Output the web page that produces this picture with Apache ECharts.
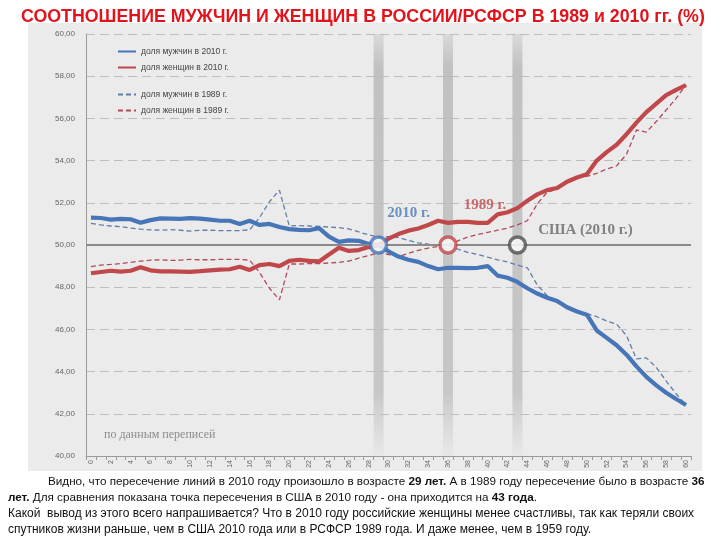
<!DOCTYPE html>
<html><head><meta charset="utf-8">
<script src="https://cdn.jsdelivr.net/npm/echarts@6/dist/echarts.min.js"></script>
<style>html,body{margin:0;padding:0;background:#fff}#c{width:720px;height:540px}</style>
</head><body><div id="c"></div>
<script>
const ages = ['0','1','2','3','4','5','6','7','8','9','10','11','12','13','14','15','16','17','18','19','20',
'21','22','23','24','25','26','27','28','29','30','31','32','33','34','35','36','37','38','39','40',
'41','42','43','44','45','46','47','48','49','50','51','52','53','54','55','56','57','58','59','60'];

const men2010 = [51.30,51.28,51.20,51.24,51.22,51.05,51.18,51.26,51.25,51.24,51.27,51.25,51.20,51.15,51.15,51.00,51.15,50.95,51.00,50.85,50.75,
50.72,50.70,50.80,50.40,50.15,50.22,50.20,50.05,50.00,49.70,49.45,49.30,49.20,49.00,48.85,48.92,48.92,48.90,48.92,49.00,
48.55,48.45,48.25,47.95,47.70,47.50,47.35,47.05,46.85,46.70,45.95,45.60,45.25,44.80,44.25,43.75,43.35,43.00,42.70,42.42];

const women2010 = [48.66,48.72,48.78,48.74,48.78,48.95,48.80,48.75,48.75,48.74,48.73,48.76,48.80,48.83,48.85,48.97,48.82,49.05,49.10,49.00,49.25,
49.30,49.25,49.22,49.55,49.87,49.72,49.76,49.90,50.00,50.30,50.52,50.68,50.78,50.95,51.15,51.05,51.10,51.10,51.05,51.05,
51.45,51.55,51.75,52.10,52.40,52.60,52.70,53.00,53.20,53.35,54.00,54.40,54.75,55.25,55.80,56.30,56.70,57.10,57.35,57.58];

const men1989 = [51.03,50.95,50.90,50.87,50.80,50.75,50.72,50.70,50.73,50.70,50.66,50.70,50.70,50.68,50.68,50.68,50.72,51.30,52.05,52.60,50.90,
50.92,50.90,50.88,50.85,50.82,50.76,50.62,50.48,50.36,50.40,50.36,50.22,50.10,50.04,50.00,50.00,49.80,49.65,49.55,49.42,
49.30,49.20,49.05,48.92,48.10,47.60,47.35,47.10,46.85,46.75,46.60,46.40,46.25,45.70,44.60,44.65,44.20,43.55,42.95,42.42];

const women1989 = [48.97,49.05,49.08,49.12,49.18,49.24,49.28,49.30,49.27,49.28,49.32,49.30,49.30,49.32,49.32,49.32,49.28,48.70,47.95,47.40,49.10,
49.10,49.12,49.12,49.15,49.18,49.24,49.38,49.50,49.64,49.55,49.46,49.60,49.75,49.85,49.93,50.00,50.20,50.38,50.50,50.60,
50.70,50.80,50.95,51.15,51.95,52.50,52.65,52.95,53.20,53.25,53.40,53.60,53.75,54.30,55.45,55.35,55.85,56.40,56.95,57.58];

const crossAges = ['29','36','43'];
const crossValues = [50, 50, 50];
const crossNames = ['2010 г.', '1989 г.', 'США (2010 г.)'];
const yTop = 60;

const C_M10 = '#4675b8', C_W10 = '#c0474a', C_M89 = '#627ea8', C_W89 = '#b24a5c';
const serif = "'Liberation Serif','DejaVu Serif',serif";
const sans = "'Liberation Sans',Arial,sans-serif";

const chart = echarts.init(document.getElementById('c'));
const bandGrad = new echarts.graphic.LinearGradient(0,0,0,1,[
  {offset:0,color:'rgba(185,185,185,0.35)'},
  {offset:0.08,color:'rgba(185,185,185,0.85)'},
  {offset:0.85,color:'rgba(190,190,190,0.8)'},
  {offset:1,color:'rgba(200,200,200,0.1)'}]);

const legendBase = {orient:'vertical',left:112,itemWidth:18,itemHeight:10,itemGap:7,
  itemStyle:{opacity:0},
  textStyle:{fontSize:8.5,color:'#444',fontFamily:sans}};

chart.setOption({
  animation:false,
  backgroundColor:'#ffffff',
  title:{text:'СООТНОШЕНИЕ МУЖЧИН И ЖЕНЩИН В РОССИИ/РСФСР В 1989 и 2010 гг. (%)',left:16,top:3,
    textStyle:{color:'#e3131b',fontSize:17.8,fontWeight:'bold',fontFamily:sans}},
  legend:[
    Object.assign({data:['доля мужчин в 2010 г.','доля женщин в 2010 г.'],top:42},legendBase),
    Object.assign({data:['доля мужчин в 1989 г.','доля женщин в 1989 г.'],top:85},legendBase)
  ],
  grid:{left:86,right:29,top:34,bottom:84},
  xAxis:{type:'category',data:ages,boundaryGap:true,
    axisLine:{lineStyle:{color:'#9a9a9a',width:1}},
    axisTick:{show:true,interval:0,length:4,lineStyle:{color:'#9a9a9a'}},
    axisLabel:{interval:1,rotate:90,fontSize:7,color:'#666',margin:4,fontFamily:sans}},
  yAxis:{type:'value',min:40,max:60,interval:2,
    axisLine:{show:true,lineStyle:{color:'#9a9a9a'}},
    axisTick:{show:false},
    splitLine:{lineStyle:{color:'#bdbdbd',type:[9,5],width:1}},
    axisLabel:{fontSize:8,color:'#666',margin:11,fontFamily:sans,
      formatter:v=>v.toFixed(2).replace('.',',')}},
  graphic:[
    {type:'rect',z:-10,shape:{x:28,y:23,width:674,height:448},style:{fill:'#ebebeb'}},
    {type:'text',left:104,top:429,style:{text:'по данным переписей',fill:'#8c8c8c',font:'12px '+serif}},
    {type:'text',left:48,top:476,style:{rich:{n:{fontSize:11.7,fontFamily:sans,fill:'#111'},b:{fontSize:11.7,fontWeight:'bold',fontFamily:sans,fill:'#111'}},
      text:'{n|Видно, что пересечение линий в 2010 году произошло в возрасте }{b|29 лет.}{n| А в 1989 году пересечение было в возрасте }{b|36}'}},
    {type:'text',left:8,top:492,style:{rich:{n:{fontSize:11.7,fontFamily:sans,fill:'#111'},b:{fontSize:11.7,fontWeight:'bold',fontFamily:sans,fill:'#111'}},
      text:'{b|лет.}{n| Для сравнения показана точка пересечения в США в 2010 году - она приходится на }{b|43 года}{n|.}'}},
    {type:'text',left:8,top:508,style:{text:'Какой  вывод из этого всего напрашивается? Что в 2010 году российские женщины менее счастливы, так как теряли своих',fill:'#111',font:"12px "+sans}},
    {type:'text',left:8,top:524,style:{text:'спутников жизни раньше, чем в США 2010 года или в РСФСР 1989 года. И даже менее, чем в 1959 году.',fill:'#111',font:"12px "+sans}}
  ],
  series:[
    {type:'bar',name:'bands',data:ages.map(a=>crossAges.includes(a)?yTop:null),barWidth:10,silent:true,z:1,
      itemStyle:{color:bandGrad}},
    {type:'line',name:'доля мужчин в 1989 г.',data:men1989,symbol:'none',z:3,
      lineStyle:{color:C_M89,width:1.3,type:[5,3]},itemStyle:{color:C_M89},
      markLine:{silent:true,symbol:'none',label:{show:false},lineStyle:{color:'#8a8a8a',width:2,type:'solid'},data:[{yAxis:50}]}},
    {type:'line',name:'доля женщин в 1989 г.',data:women1989,symbol:'none',z:3,
      lineStyle:{color:C_W89,width:1.3,type:[5,3]},itemStyle:{color:C_W89}},
    {type:'line',name:'доля мужчин в 2010 г.',data:men2010,symbol:'none',z:4,
      lineStyle:{color:C_M10,width:4.2},itemStyle:{color:C_M10}},
    {type:'line',name:'доля женщин в 2010 г.',data:women2010,symbol:'none',z:4,
      lineStyle:{color:C_W10,width:4.2},itemStyle:{color:C_W10}},
    {type:'scatter',name:'cross',z:6,symbolSize:16,
      data:[
        {value:[crossAges[0],crossValues[0]],itemStyle:{color:'#fff',borderColor:C_M10,borderWidth:3.5},
          label:{show:true,formatter:crossNames[0],offset:[30,-32],position:'inside',color:'#4a78b8',fontSize:15,fontWeight:'bold',fontFamily:serif}},
        {value:[crossAges[1],crossValues[1]],itemStyle:{color:'#fff',borderColor:C_W10,borderWidth:3.5},
          label:{show:true,formatter:crossNames[1],offset:[37,-40],position:'inside',color:'#c0474a',fontSize:15,fontWeight:'bold',fontFamily:serif}},
        {value:[crossAges[2],crossValues[2]],itemStyle:{color:'#fff',borderColor:'#4f4f4f',borderWidth:3.5},
          label:{show:true,formatter:crossNames[2],offset:[68,-15],position:'inside',color:'#666',fontSize:15,fontWeight:'bold',fontFamily:serif}}
      ]}
  ]
});
</script></body></html>
